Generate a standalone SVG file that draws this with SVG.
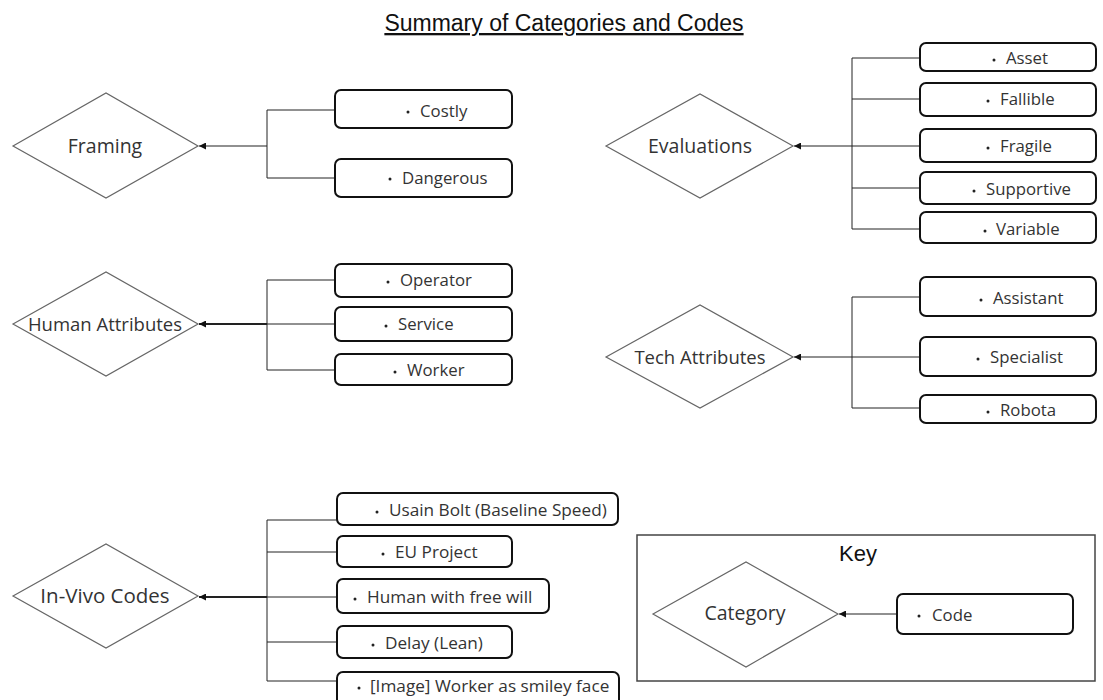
<svg xmlns="http://www.w3.org/2000/svg" width="1103" height="700" viewBox="0 0 1103 700">
<defs>
<marker id="ah" viewBox="0 0 10 10" refX="10" refY="5" markerWidth="7" markerHeight="7" markerUnits="userSpaceOnUse" orient="auto">
<path d="M0,0 L10,5 L0,10 z" fill="#111"/>
</marker>
</defs>
<style>
.dia{fill:#fff;stroke:#666;stroke-width:1.2}
.box{fill:#fff;stroke:#111;stroke-width:2}
.cat{font-family:"Open Sans","Noto Sans",sans-serif;font-size:19.5px;fill:#333;text-anchor:middle}
.attr{font-size:18.5px}
.code{font-family:"Open Sans","Noto Sans",sans-serif;font-size:16.8px;fill:#333}
.iv{font-size:17.2px}
.bul{fill:#222}
.ln{fill:none;stroke:#222;stroke-width:1}
.main{fill:none;stroke:#222;stroke-width:1.2;marker-end:url(#ah)}
.thick{stroke-width:2}
.title{font-family:"Liberation Sans",Arial,sans-serif;font-size:23px;fill:#111;text-anchor:middle;text-decoration:underline}
.key{font-family:"Liberation Sans",Arial,sans-serif;font-size:22px;fill:#111;text-anchor:middle}
</style>
<rect width="1103" height="700" fill="#fff"/>
<text class="title" x="564" y="31">Summary of Categories and Codes</text>

<g id="connectors">
<path class="ln" d="M335,110 H267 V178 H335"/>
<path class="main" d="M267,146 H199"/>
<path class="ln" d="M920,58 H852 V229 H920 M852,99 H920 M852,188 H920 M852,146 H920"/>
<path class="main" d="M852,146 H794"/>
<path class="ln" d="M335,280 H267 V370 H335 M267,324 H335"/>
<path class="main thick" d="M267,324 H199"/>
<path class="ln" d="M920,297 H852 V408 H920 M852,357 H920"/>
<path class="main" d="M852,357 H794"/>
<path class="ln" d="M337,520 H267 V681 H337 M267,552 H337 M267,642 H337 M267,597 H337"/>
<path class="main thick" d="M267,597 H199"/>
<path class="main" d="M897,614 H839"/>
</g>

<g id="framing"><polygon class="dia" points="13,146 106,93 198,146 106,198"/><text class="cat" x="105" y="153">Framing</text></g>
<g id="costly"><rect class="box" x="335" y="90" width="177" height="38" rx="6"/><circle class="bul" cx="408" cy="112" r="1.5"/><text class="code" x="420" y="117">Costly</text></g>
<g id="dangerous"><rect class="box" x="335" y="159" width="177" height="38" rx="6"/><circle class="bul" cx="390" cy="179" r="1.5"/><text class="code" x="402" y="184">Dangerous</text></g>

<g id="evaluations"><polygon class="dia" points="606,146 700,94 793,146 700,198"/><text class="cat" x="700" y="153">Evaluations</text></g>
<g id="asset"><rect class="box" x="920" y="43" width="176" height="28" rx="6"/><circle class="bul" cx="994" cy="60" r="1.5"/><text class="code" x="1006" y="64">Asset</text></g>
<g id="fallible"><rect class="box" x="920" y="83" width="176" height="33" rx="6"/><circle class="bul" cx="988" cy="101" r="1.5"/><text class="code" x="1000" y="105">Fallible</text></g>
<g id="fragile"><rect class="box" x="920" y="129" width="176" height="33" rx="6"/><circle class="bul" cx="988" cy="148" r="1.5"/><text class="code" x="1000" y="152">Fragile</text></g>
<g id="supportive"><rect class="box" x="920" y="172" width="176" height="32" rx="6"/><circle class="bul" cx="974" cy="191" r="1.5"/><text class="code" x="986" y="195">Supportive</text></g>
<g id="variable"><rect class="box" x="920" y="212" width="176" height="31" rx="6"/><circle class="bul" cx="985" cy="231" r="1.5"/><text class="code" x="996" y="235">Variable</text></g>

<g id="human-attributes"><polygon class="dia" points="13,324 106,272 198,324 106,376"/><text class="cat attr" x="105" y="331">Human Attributes</text></g>
<g id="operator"><rect class="box" x="335" y="264" width="177" height="33" rx="6"/><circle class="bul" cx="388" cy="282" r="1.5"/><text class="code" x="400" y="286">Operator</text></g>
<g id="service"><rect class="box" x="335" y="307" width="177" height="34" rx="6"/><circle class="bul" cx="386" cy="326" r="1.5"/><text class="code" x="398" y="330">Service</text></g>
<g id="worker"><rect class="box" x="335" y="354" width="177" height="31" rx="6"/><circle class="bul" cx="395" cy="372" r="1.5"/><text class="code" x="407" y="376">Worker</text></g>

<g id="tech-attributes"><polygon class="dia" points="606,357 700,305 793,357 700,408"/><text class="cat attr" x="700" y="364">Tech Attributes</text></g>
<g id="assistant"><rect class="box" x="920" y="277" width="176" height="39" rx="6"/><circle class="bul" cx="981" cy="300" r="1.5"/><text class="code" x="993" y="304">Assistant</text></g>
<g id="specialist"><rect class="box" x="920" y="337" width="176" height="39" rx="6"/><circle class="bul" cx="978" cy="359" r="1.5"/><text class="code" x="990" y="363">Specialist</text></g>
<g id="robota"><rect class="box" x="920" y="395" width="176" height="28" rx="6"/><circle class="bul" cx="988" cy="412" r="1.5"/><text class="code" x="1000" y="416">Robota</text></g>

<g id="in-vivo-codes"><polygon class="dia" points="13,596 106,544 198,596 106,648"/><text class="cat" x="105" y="603" style="font-size:20.5px">In-Vivo Codes</text></g>
<g id="usain"><rect class="box" x="337" y="493" width="281" height="32" rx="6"/><circle class="bul" cx="377" cy="512" r="1.5"/><text class="code iv" x="389" y="516">Usain Bolt (Baseline Speed)</text></g>
<g id="eu-project"><rect class="box" x="337" y="536" width="175" height="31" rx="6"/><circle class="bul" cx="383" cy="554" r="1.5"/><text class="code iv" x="395" y="558">EU Project</text></g>
<g id="human-free-will"><rect class="box" x="337" y="579" width="212" height="34" rx="6"/><circle class="bul" cx="355" cy="599" r="1.5"/><text class="code iv" x="367" y="603">Human with free will</text></g>
<g id="delay"><rect class="box" x="337" y="626" width="175" height="32" rx="6"/><circle class="bul" cx="373" cy="645" r="1.5"/><text class="code iv" x="385" y="649">Delay (Lean)</text></g>
<g id="image-worker"><rect class="box" x="337" y="672" width="282" height="40" rx="6"/><circle class="bul" cx="359" cy="688" r="1.5"/><text class="code iv" x="370" y="692">[Image] Worker as smiley face</text></g>

<g id="key">
<rect x="637" y="535" width="458" height="146" fill="none" stroke="#444" stroke-width="1.5"/>
<text class="key" x="858" y="561">Key</text>
</g>
<g id="category"><polygon class="dia" points="653,614 746,562 838,614 746,667"/><text class="cat" x="745" y="620">Category</text></g>
<g id="code"><rect class="box" x="897" y="594" width="176" height="40" rx="6"/><circle class="bul" cx="919" cy="616" r="1.5"/><text class="code" x="932" y="621">Code</text></g>
</svg>
